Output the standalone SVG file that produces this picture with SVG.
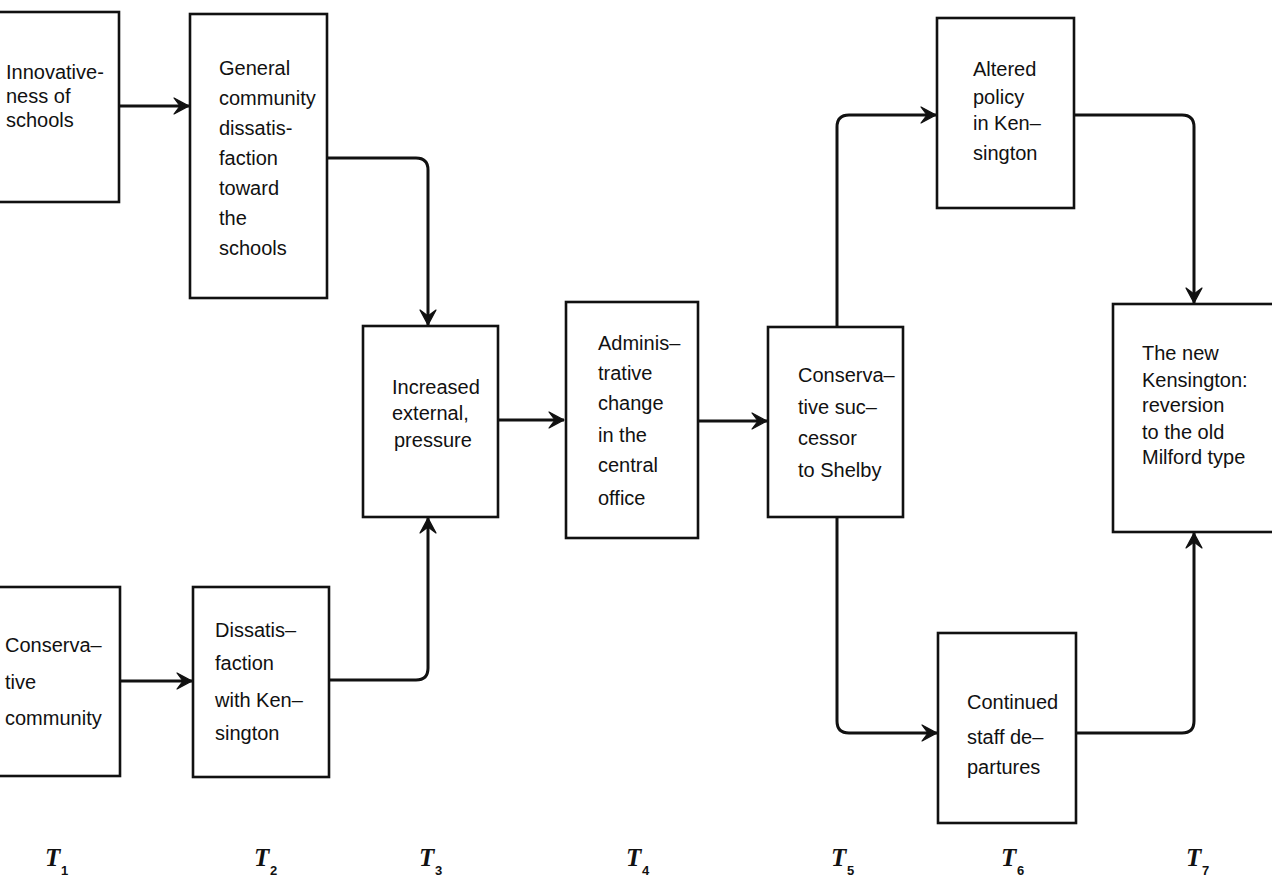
<svg xmlns="http://www.w3.org/2000/svg" width="1272" height="886" viewBox="0 0 1272 886">
<defs>
<style>
.box{fill:#fff;stroke:#111;stroke-width:2.6}
.lbl{font-family:"Liberation Sans",Arial,sans-serif;font-size:20px;fill:#111}
.con{fill:none;stroke:#111;stroke-width:3;marker-end:url(#ah)}
.t{font-family:"Liberation Serif","Times New Roman",serif;font-style:italic;font-weight:bold;font-size:25px;fill:#111}
.sub{font-family:"Liberation Sans",Arial,sans-serif;font-weight:bold;font-size:13px;fill:#111}
</style>
<marker id="ah" viewBox="-16 -9 17 18" refX="0" refY="0" markerWidth="17" markerHeight="18" markerUnits="userSpaceOnUse" orient="auto">
<path d="M0,0 L-15,-8 L-9,0 L-15,8 Z" fill="#111" stroke="#111" stroke-width="1.2" stroke-linejoin="round"/>
</marker>
</defs>
<rect width="1272" height="886" fill="#fff"/>

<g id="connectors">
<path class="con" d="M119,106 H189"/>
<path class="con" d="M327,158 H416 Q428,158 428,170 V325"/>
<path class="con" d="M329,680 H416 Q428,680 428,668 V518"/>
<path class="con" d="M498,420 H564"/>
<path class="con" d="M698,421 H767"/>
<path class="con" d="M837,327 V127 Q837,115 849,115 H936"/>
<path class="con" d="M837,517 V721 Q837,733 849,733 H937"/>
<path class="con" d="M1074,115 H1182 Q1194,115 1194,127 V303"/>
<path class="con" d="M1076,733 H1182 Q1194,733 1194,721 V533"/>
<path class="con" d="M120,681 H192"/>
</g>

<g id="innovativeness">
<rect class="box" x="-4" y="12" width="123" height="190"/>
<text class="lbl" x="6" y="79">Innovative-</text>
<text class="lbl" x="6" y="103">ness of</text>
<text class="lbl" x="6" y="127">schools</text>
</g>

<g id="general-dissatisfaction">
<rect class="box" x="190" y="14" width="137" height="284"/>
<text class="lbl" x="219" y="75">General</text>
<text class="lbl" x="219" y="105">community</text>
<text class="lbl" x="219" y="135">dissatis-</text>
<text class="lbl" x="219" y="165">faction</text>
<text class="lbl" x="219" y="195">toward</text>
<text class="lbl" x="219" y="225">the</text>
<text class="lbl" x="219" y="255">schools</text>
</g>

<g id="increased-pressure">
<rect class="box" x="363" y="326" width="135" height="191"/>
<text class="lbl" x="392" y="394">Increased</text>
<text class="lbl" x="392" y="420">external,</text>
<text class="lbl" x="394" y="447">pressure</text>
</g>

<g id="administrative-change">
<rect class="box" x="566" y="302" width="132" height="236"/>
<text class="lbl" x="598" y="350">Adminis–</text>
<text class="lbl" x="598" y="380">trative</text>
<text class="lbl" x="598" y="410">change</text>
<text class="lbl" x="598" y="442">in the</text>
<text class="lbl" x="598" y="472">central</text>
<text class="lbl" x="598" y="505">office</text>
</g>

<g id="conservative-successor">
<rect class="box" x="768" y="327" width="135" height="190"/>
<text class="lbl" x="798" y="382">Conserva–</text>
<text class="lbl" x="798" y="414">tive suc–</text>
<text class="lbl" x="798" y="445">cessor</text>
<text class="lbl" x="798" y="477">to Shelby</text>
</g>

<g id="altered-policy">
<rect class="box" x="937" y="18" width="137" height="190"/>
<text class="lbl" x="973" y="76">Altered</text>
<text class="lbl" x="973" y="104">policy</text>
<text class="lbl" x="973" y="130">in Ken–</text>
<text class="lbl" x="973" y="160">sington</text>
</g>

<g id="new-kensington">
<rect class="box" x="1113" y="304" width="164" height="228"/>
<text class="lbl" x="1142" y="360">The new</text>
<text class="lbl" x="1142" y="387">Kensington:</text>
<text class="lbl" x="1142" y="412">reversion</text>
<text class="lbl" x="1142" y="439">to the old</text>
<text class="lbl" x="1142" y="464">Milford type</text>
</g>

<g id="conservative-community">
<rect class="box" x="-4" y="587" width="124" height="189"/>
<text class="lbl" x="5" y="652">Conserva–</text>
<text class="lbl" x="5" y="689">tive</text>
<text class="lbl" x="5" y="725">community</text>
</g>

<g id="dissatisfaction-kensington">
<rect class="box" x="193" y="587" width="136" height="190"/>
<text class="lbl" x="215" y="637">Dissatis–</text>
<text class="lbl" x="215" y="670">faction</text>
<text class="lbl" x="215" y="707">with Ken–</text>
<text class="lbl" x="215" y="740">sington</text>
</g>

<g id="staff-departures">
<rect class="box" x="938" y="633" width="138" height="190"/>
<text class="lbl" x="967" y="709">Continued</text>
<text class="lbl" x="967" y="744">staff de–</text>
<text class="lbl" x="967" y="774">partures</text>
</g>

<g id="time-axis">
<text class="t" x="45" y="866">T</text><text class="sub" x="61" y="875">1</text>
<text class="t" x="254" y="866">T</text><text class="sub" x="270" y="875">2</text>
<text class="t" x="419" y="866">T</text><text class="sub" x="435" y="875">3</text>
<text class="t" x="626" y="866">T</text><text class="sub" x="642" y="875">4</text>
<text class="t" x="831" y="866">T</text><text class="sub" x="847" y="875">5</text>
<text class="t" x="1001" y="866">T</text><text class="sub" x="1017" y="875">6</text>
<text class="t" x="1186" y="866">T</text><text class="sub" x="1202" y="875">7</text>
</g>
</svg>
